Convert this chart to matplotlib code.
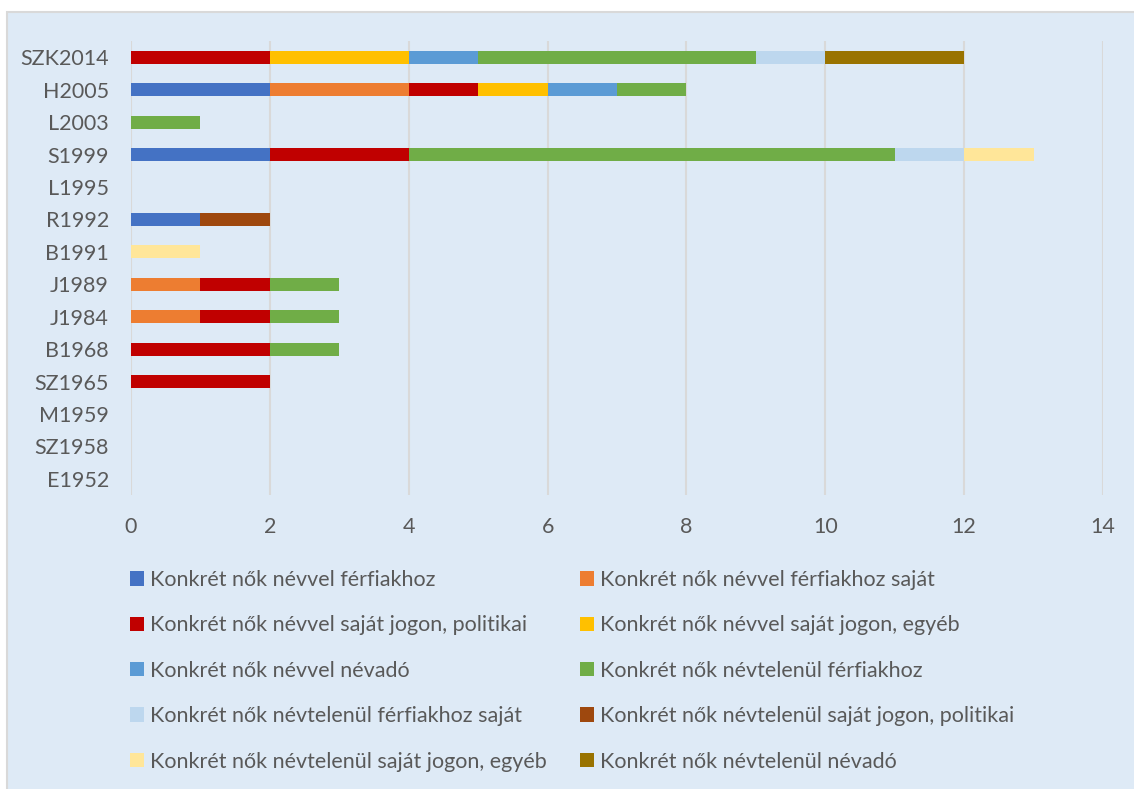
import numpy as np
import matplotlib.pyplot as plt
from matplotlib.patches import Rectangle, Patch

plt.rcParams['font.family'] = ['Lato', 'DejaVu Sans']

# categories, bottom to top
categories = ['E1952', 'SZ1958', 'M1959', 'SZ1965', 'B1968', 'J1984', 'J1989',
              'B1991', 'R1992', 'L1995', 'S1999', 'L2003', 'H2005', 'SZK2014']

series_names = [
    'Konkrét nők névvel férfiakhoz',
    'Konkrét nők névvel férfiakhoz saját',
    'Konkrét nők névvel saját jogon, politikai',
    'Konkrét nők névvel saját jogon, egyéb',
    'Konkrét nők névvel névadó',
    'Konkrét nők névtelenül férfiakhoz',
    'Konkrét nők névtelenül férfiakhoz saját',
    'Konkrét nők névtelenül saját jogon, politikai',
    'Konkrét nők névtelenül saját jogon, egyéb',
    'Konkrét nők névtelenül névadó',
]

# values per series, same order as categories
nevvel_ferfi        = [0, 0, 0, 0, 0, 0, 0, 0, 1, 0, 2, 0, 2, 0]
nevvel_ferfi_sajat  = [0, 0, 0, 0, 0, 1, 1, 0, 0, 0, 0, 0, 2, 0]
nevvel_politikai    = [0, 0, 0, 2, 2, 1, 1, 0, 0, 0, 2, 0, 1, 2]
nevvel_egyeb        = [0, 0, 0, 0, 0, 0, 0, 0, 0, 0, 0, 0, 1, 2]
nevvel_nevado       = [0, 0, 0, 0, 0, 0, 0, 0, 0, 0, 0, 0, 1, 1]
nevtelen_ferfi      = [0, 0, 0, 0, 1, 1, 1, 0, 0, 0, 7, 1, 1, 4]
nevtelen_ferfi_saj  = [0, 0, 0, 0, 0, 0, 0, 0, 0, 0, 1, 0, 0, 1]
nevtelen_politikai  = [0, 0, 0, 0, 0, 0, 0, 0, 1, 0, 0, 0, 0, 0]
nevtelen_egyeb      = [0, 0, 0, 0, 0, 0, 0, 1, 0, 0, 1, 0, 0, 0]
nevtelen_nevado     = [0, 0, 0, 0, 0, 0, 0, 0, 0, 0, 0, 0, 0, 2]

series = [nevvel_ferfi, nevvel_ferfi_sajat, nevvel_politikai, nevvel_egyeb,
          nevvel_nevado, nevtelen_ferfi, nevtelen_ferfi_saj, nevtelen_politikai,
          nevtelen_egyeb, nevtelen_nevado]

colors = ['#4472C4', '#ED7D31', '#C00000', '#FFC000', '#5B9BD5',
          '#70AD47', '#BDD7EE', '#9E480E', '#FFE699', '#997300']

bg = '#DEEAF6'
textcol = '#595959'
fs = 15.5

fig = plt.figure(figsize=(11.34, 7.89), dpi=100)
fig.patch.set_facecolor('white')
fig.patches.append(Rectangle((7 / 1134, -0.01), 1.02, 1 - 12 / 789 + 0.01,
                             transform=fig.transFigure, facecolor=bg,
                             edgecolor='#D9D9D9', linewidth=1.5, zorder=-1))

ax = fig.add_axes([131 / 1134, 1 - 495 / 789, (1103 - 131) / 1134, (495 - 41) / 789])
ax.patch.set_alpha(0)

y = np.arange(len(categories))
left = np.zeros(len(categories))
for vals, c in zip(series, colors):
    vals = np.array(vals, dtype=float)
    ax.barh(y, vals, left=left, height=0.4, color=c, zorder=3)
    left += vals

ax.set_xlim(0, 14)
ax.set_ylim(-0.5, len(categories) - 0.5)
ax.set_xticks(range(0, 15, 2))
ax.set_yticks(y)
ax.set_yticklabels(categories)
ax.tick_params(axis='both', length=0, labelsize=fs, colors=textcol)
ax.tick_params(axis='x', pad=16)
ax.tick_params(axis='y', pad=16)
ax.grid(axis='x', color='#D9D9D9', linewidth=1.5, zorder=0)
for s in ax.spines.values():
    s.set_visible(False)

# legend, row-major order like the original
order = [0, 2, 4, 6, 8, 1, 3, 5, 7, 9]
handles = [Patch(facecolor=colors[i], label=series_names[i]) for i in order]
fig.legend(handles=handles, ncol=2, loc='upper left',
           bbox_to_anchor=(130 / 1134, 1 - 570 / 789), frameon=False,
           borderpad=0, borderaxespad=0,
           fontsize=fs, labelcolor=textcol, handlelength=0.65, handleheight=0.65,
           handletextpad=0.28, labelspacing=1.18, columnspacing=1.55)

plt.savefig('out.png', dpi=100)
